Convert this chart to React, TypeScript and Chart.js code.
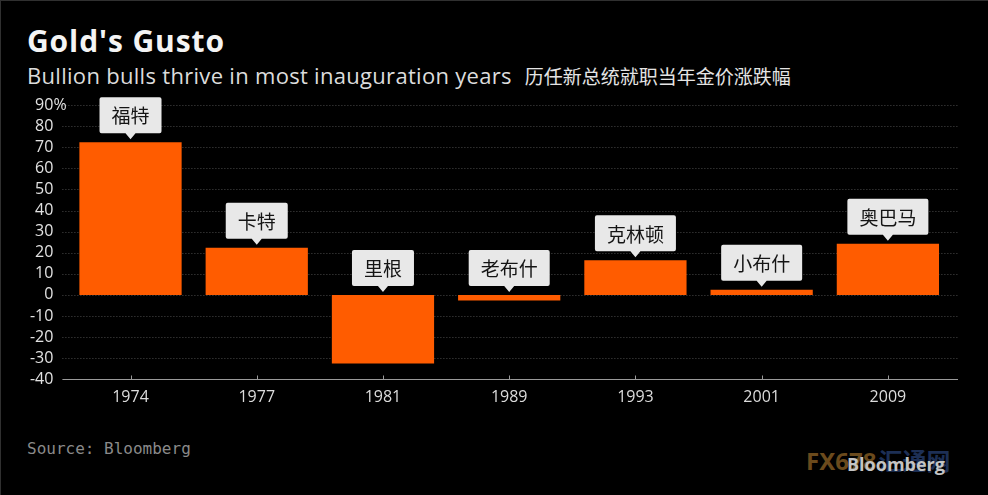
import React, { useEffect, useRef } from "react";
import { Chart, registerables } from "chart.js";

Chart.register(...registerables);

// ---- data ----
const years = ["1974", "1977", "1981", "1989", "1993", "2001", "2009"];
const goldChange = [72.4, 22.3, -32.5, -2.6, 16.4, 2.4, 24.3];
const presidents = ["福特", "卡特", "里根", "老布什", "克林顿", "小布什", "奥巴马"];
const yTickValues = [90, 80, 70, 60, 50, 40, 30, 20, 10, 0, -10, -20, -30, -40];

const TITLE = "Gold's Gusto";
const SUBTITLE_EN = "Bullion bulls thrive in most inauguration years";
const SUBTITLE_ZH = "历任新总统就职当年金价涨跌幅";
const SOURCE = "Source: Bloomberg";

const BAR_COLOR = "#ff5c00";
const TICK_FONT = "16px 'Open Sans', 'Noto Sans', sans-serif";
const CJK_FONT = "19px 'Noto Sans CJK SC', sans-serif";

const framePlugin = {
  id: "frame",
  beforeDatasetsDraw(chart: any) {
    const ctx = chart.ctx;
    const area = chart.chartArea;
    const y = chart.scales.y;
    const x = chart.scales.x;
    const left = area.left - 5;
    const right = area.right + 7;
    ctx.save();
    // dotted grid lines
    ctx.strokeStyle = "#4a4a4a";
    ctx.lineWidth = 1;
    ctx.setLineDash([1, 2]);
    yTickValues.forEach((v) => {
      if (v === yTickValues[yTickValues.length - 1]) return;
      const py = Math.round(y.getPixelForValue(v)) + 0.5;
      ctx.beginPath();
      ctx.moveTo(left, py);
      ctx.lineTo(right, py);
      ctx.stroke();
    });
    ctx.setLineDash([]);
    // axis line at bottom
    const by = Math.round(y.getPixelForValue(yTickValues[yTickValues.length - 1])) + 0.5;
    ctx.strokeStyle = "#9a9a9a";
    ctx.beginPath();
    ctx.moveTo(left, by);
    ctx.lineTo(right, by);
    ctx.stroke();
    // category ticks (pointing up)
    years.forEach((_, i) => {
      const px = Math.round(x.getPixelForValue(i)) + 0.5;
      ctx.beginPath();
      ctx.moveTo(px, by - 4);
      ctx.lineTo(px, by);
      ctx.stroke();
    });
    // y tick labels
    ctx.fillStyle = "#e2e2e2";
    ctx.font = TICK_FONT;
    ctx.textBaseline = "middle";
    yTickValues.forEach((v, i) => {
      const py = y.getPixelForValue(v);
      const labelX = area.left - 14;
      ctx.textAlign = "right";
      ctx.fillText(String(v), labelX, py);
      if (i === 0) {
        ctx.textAlign = "left";
        ctx.fillText("%", labelX, py);
      }
    });
    ctx.restore();
  },
  afterDatasetsDraw(chart: any) {
    const ctx = chart.ctx;
    const meta = chart.getDatasetMeta(0);
    const y = chart.scales.y;
    const zeroY = y.getPixelForValue(0);
    ctx.save();
    ctx.font = CJK_FONT;
    meta.data.forEach((bar: any, i: number) => {
      const v = goldChange[i];
      const anchorY = v >= 0 ? bar.y : zeroY;
      const tipY = anchorY - 3;
      const ptrH = 6;
      const boxH = 36;
      const boxBottom = tipY - ptrH;
      const boxTop = boxBottom - boxH;
      const text = presidents[i];
      const tw = ctx.measureText(text).width;
      const boxW = tw + 24;
      const cx = bar.x;
      ctx.fillStyle = "#e8e8e8";
      ctx.beginPath();
      const r = 2;
      const l = cx - boxW / 2;
      const rr = cx + boxW / 2;
      ctx.moveTo(l + r, boxTop);
      ctx.lineTo(rr - r, boxTop);
      ctx.quadraticCurveTo(rr, boxTop, rr, boxTop + r);
      ctx.lineTo(rr, boxBottom - r);
      ctx.quadraticCurveTo(rr, boxBottom, rr - r, boxBottom);
      ctx.lineTo(cx + 5, boxBottom);
      ctx.lineTo(cx, tipY);
      ctx.lineTo(cx - 5, boxBottom);
      ctx.lineTo(l + r, boxBottom);
      ctx.quadraticCurveTo(l, boxBottom, l, boxBottom - r);
      ctx.lineTo(l, boxTop + r);
      ctx.quadraticCurveTo(l, boxTop, l + r, boxTop);
      ctx.closePath();
      ctx.fill();
      ctx.fillStyle = "#141414";
      ctx.textAlign = "center";
      ctx.textBaseline = "middle";
      ctx.fillText(text, cx, (boxTop + boxBottom) / 2 + 1);
    });
    ctx.restore();
  },
};

function GoldChart() {
  const ref = useRef<HTMLCanvasElement | null>(null);
  useEffect(() => {
    if (!ref.current) return;
    const chart = new Chart(ref.current, {
      type: "bar",
      data: {
        labels: years,
        datasets: [
          {
            data: goldChange,
            backgroundColor: BAR_COLOR,
            borderWidth: 0,
            barPercentage: 0.81,
            categoryPercentage: 1,
          },
        ],
      },
      options: {
        responsive: false,
        animation: false,
        layout: { padding: { top: 15, right: 37, left: 0, bottom: 0 } },
        plugins: { legend: { display: false }, tooltip: { enabled: false }, title: { display: false } },
        scales: {
          x: {
            offset: true,
            grid: { display: false, drawTicks: false },
            border: { display: false },
            ticks: {
              color: "#dcdcdc",
              font: { family: "'Open Sans', 'Noto Sans', sans-serif", size: 16 },
              padding: 9,
              maxRotation: 0,
            },
            afterFit: (s: any) => {
              s.height = 40.7;
            },
          },
          y: {
            min: -40,
            max: 90,
            grid: { display: false },
            border: { display: false },
            ticks: { display: false, stepSize: 10 },
            afterFit: (s: any) => {
              s.width = 67.4;
            },
          },
        },
      },
      plugins: [framePlugin],
    });
    return () => chart.destroy();
  }, []);
  return (
    <canvas
      ref={ref}
      width={988}
      height={330}
      style={{ position: "absolute", left: 0, top: 90, width: 988, height: 330 }}
    />
  );
}

export default function App() {
  useEffect(() => {
    document.body.style.margin = "0";
    document.body.style.background = "#000";
  }, []);
  return (
    <div
      style={{
        position: "relative",
        width: 988,
        height: 495,
        background: "#000",
        overflow: "hidden",
      }}
    >
      <div
        style={{
          position: "absolute",
          left: 0,
          top: 0,
          width: 988,
          height: 495,
          borderTop: "1px solid #303030",
          borderLeft: "1px solid #303030",
          boxSizing: "border-box",
          pointerEvents: "none",
        }}
      />
      <div
        style={{
          position: "absolute",
          left: 27,
          top: 26,
          fontFamily: "'Open Sans', sans-serif",
          fontWeight: 700,
          fontSize: 30,
          letterSpacing: 0.9,
          lineHeight: 1,
          color: "#f4f4f4",
          whiteSpace: "nowrap",
        }}
      >
        {TITLE}
      </div>
      <div
        style={{
          position: "absolute",
          left: 27,
          top: 64,
          fontFamily: "'Open Sans', sans-serif",
          fontSize: 22,
          letterSpacing: 0.3,
          lineHeight: 1,
          color: "#dcdcdc",
          whiteSpace: "nowrap",
        }}
      >
        {SUBTITLE_EN}
        <span
          style={{
            fontFamily: "'Noto Sans CJK SC', sans-serif",
            fontSize: 19,
            letterSpacing: 0,
            marginLeft: 13,
            color: "#e4e4e4",
          }}
        >
          {SUBTITLE_ZH}
        </span>
      </div>
      <GoldChart />
      <div
        style={{
          position: "absolute",
          left: 27,
          top: 441,
          fontFamily: "'DejaVu Sans Mono', monospace",
          fontSize: 16,
          lineHeight: 1,
          color: "#8a8a8a",
          whiteSpace: "nowrap",
        }}
      >
        {SOURCE}
      </div>
      <div
        style={{
          position: "absolute",
          left: 806,
          top: 448,
          fontFamily: "'Noto Sans', sans-serif",
          fontWeight: 700,
          fontSize: 24,
          lineHeight: 1,
          whiteSpace: "nowrap",
        }}
      >
        <span style={{ color: "#6b4a1c" }}>FX678</span>
        <span style={{ color: "#1d2f55", fontFamily: "'Noto Sans CJK SC', sans-serif", marginLeft: 2 }}>汇通网</span>
      </div>
      <div
        style={{
          position: "absolute",
          left: 847,
          top: 455,
          fontFamily: "'Open Sans', sans-serif",
          fontWeight: 700,
          fontSize: 18,
          lineHeight: 1,
          color: "#c4c4c4",
          whiteSpace: "nowrap",
        }}
      >
        Bloomberg
      </div>
    </div>
  );
}
